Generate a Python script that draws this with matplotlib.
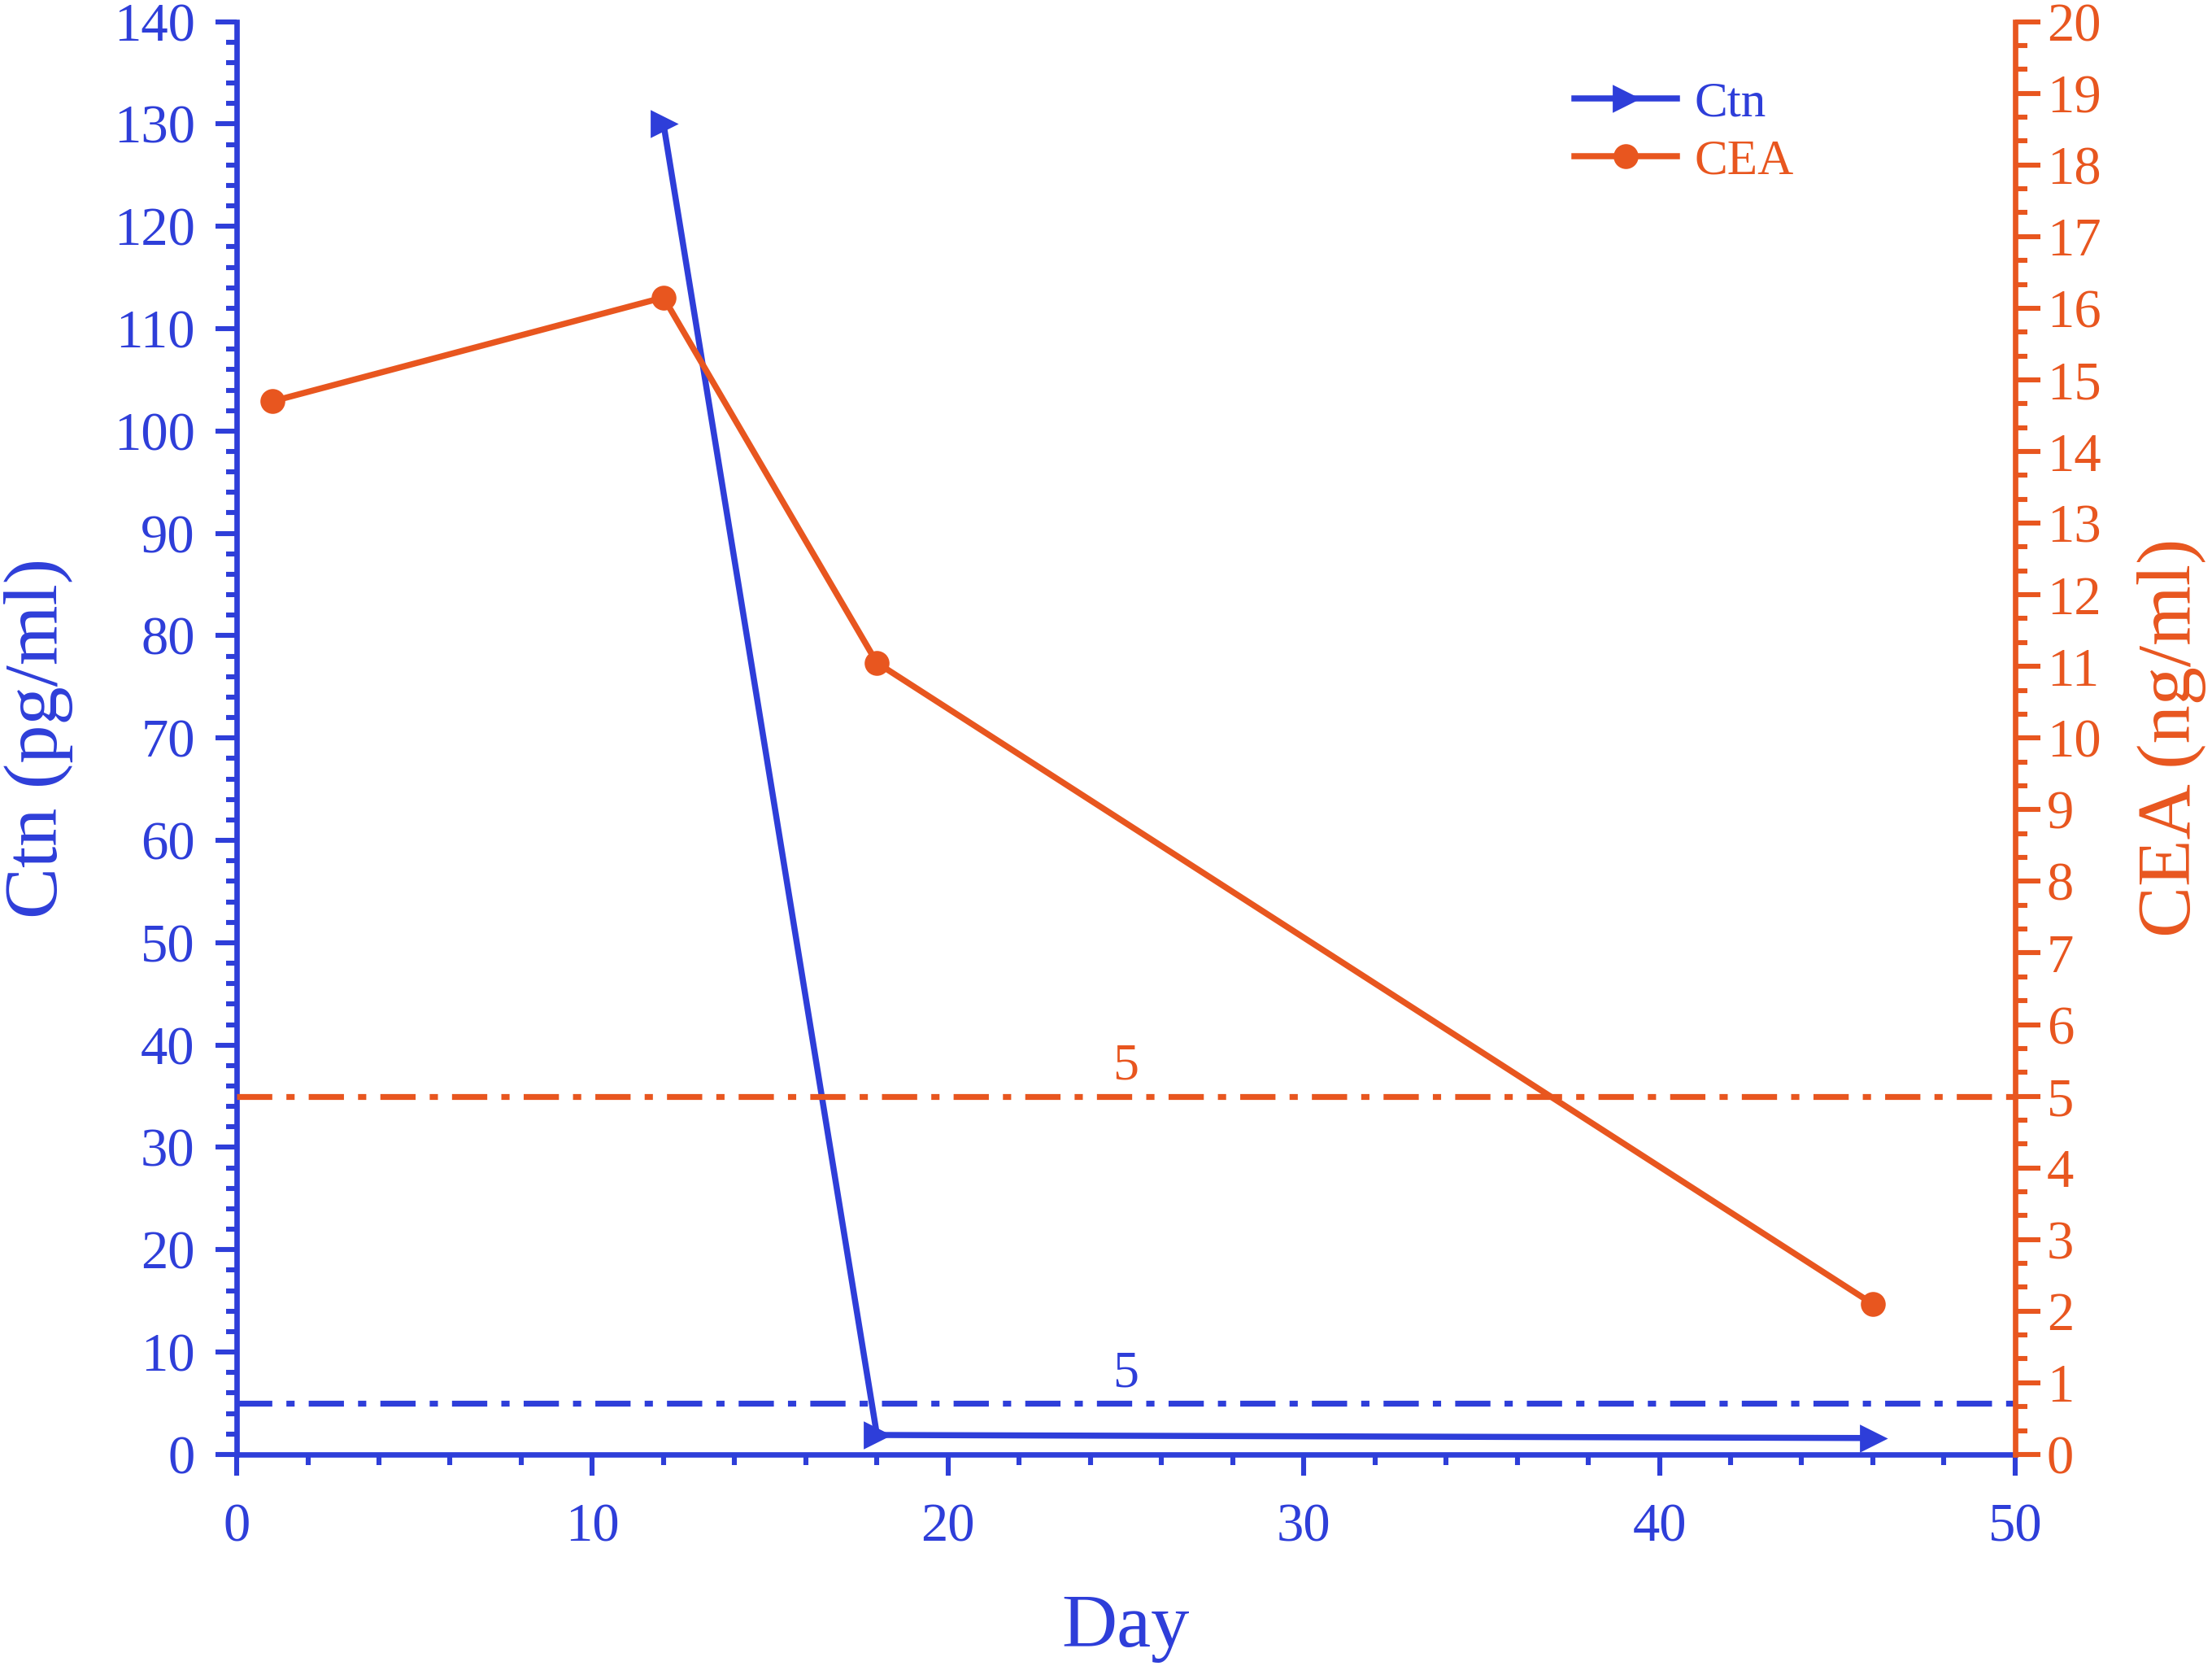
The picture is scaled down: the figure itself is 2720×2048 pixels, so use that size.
import matplotlib
matplotlib.use("Agg")
import matplotlib.pyplot as plt
from matplotlib.ticker import MultipleLocator

# data
ctn_day = [12, 18, 46]
ctn_val = [130, 1.9, 1.6]
cea_day = [1, 12, 18, 46]
cea_val = [14.7, 16.15, 11.05, 2.1]
ctn_ref = 5
cea_ref = 5

blue = "#2E3ED9"
orange = "#E8561F"
dashdot = (0, (6, 2.4, 1.4, 2.4))

plt.rcParams["font.family"] = ["Liberation Serif", "DejaVu Serif"]

fig = plt.figure(figsize=(13.6, 10.24), dpi=200)
ax = fig.add_axes([0.107, 0.127, 0.804, 0.86])
ax2 = ax.twinx()

l1, = ax.plot(ctn_day, ctn_val, color=blue, lw=2.7, marker=">", ms=11,
              label="Ctn", zorder=3)
ax.axhline(ctn_ref, color=blue, lw=2.6, ls=dashdot)
ax.text(25, ctn_ref + 0.5, str(ctn_ref), color=blue, fontsize=23,
        ha="center", va="bottom")

l2, = ax2.plot(cea_day, cea_val, color=orange, lw=2.7, marker="o", ms=10,
               label="CEA", zorder=3)
ax2.axhline(cea_ref, color=orange, lw=2.6, ls=dashdot)
ax2.text(25, cea_ref + 0.08, str(cea_ref), color=orange, fontsize=23,
         ha="center", va="bottom")

ax.set_xlim(0, 50)
ax.set_ylim(0, 140)
ax2.set_ylim(0, 20)

ax.xaxis.set_major_locator(MultipleLocator(10))
ax.xaxis.set_minor_locator(MultipleLocator(2))
ax.yaxis.set_major_locator(MultipleLocator(10))
ax.yaxis.set_minor_locator(MultipleLocator(2))
ax2.yaxis.set_major_locator(MultipleLocator(1))
ax2.yaxis.set_minor_locator(MultipleLocator(1 / 3))

for a in (ax, ax2):
    a.spines["top"].set_visible(False)
ax.spines["right"].set_visible(False)
ax2.spines["left"].set_visible(False)
ax2.spines["bottom"].set_visible(False)
ax.spines["left"].set_color(blue)
ax.spines["bottom"].set_color(blue)
ax2.spines["right"].set_color(orange)
for s in ("left", "bottom"):
    ax.spines[s].set_linewidth(2.4)
ax2.spines["right"].set_linewidth(2.4)

ax.tick_params(axis="both", which="major", direction="out", length=9.5,
               width=2.2, color=blue, labelcolor=blue, labelsize=24, pad=9)
ax.tick_params(axis="both", which="minor", direction="out", length=4.8,
               width=2.2, color=blue)
ax.tick_params(axis="x", which="major", pad=12)
ax2.tick_params(axis="y", which="major", direction="out", length=11,
                width=2.2, color=orange, labelcolor=orange, labelsize=24, pad=3)
ax2.tick_params(axis="y", which="minor", direction="out", length=5.5,
                width=2.2, color=orange)

ax.set_xlabel("Day", color=blue, fontsize=34, labelpad=18)
ax.set_ylabel("Ctn (pg/ml)", color=blue, fontsize=34, labelpad=18)
ax2.set_ylabel("CEA (ng/ml)", color=orange, fontsize=34, labelpad=16)

leg = ax.legend(handles=[l1, l2], loc="upper left",
                bbox_to_anchor=(0.727, 0.99), frameon=False, fontsize=22,
                labelcolor="linecolor", handlelength=2.07,
                handletextpad=0.35, labelspacing=0.25)

fig.savefig("out.png", dpi=200)
